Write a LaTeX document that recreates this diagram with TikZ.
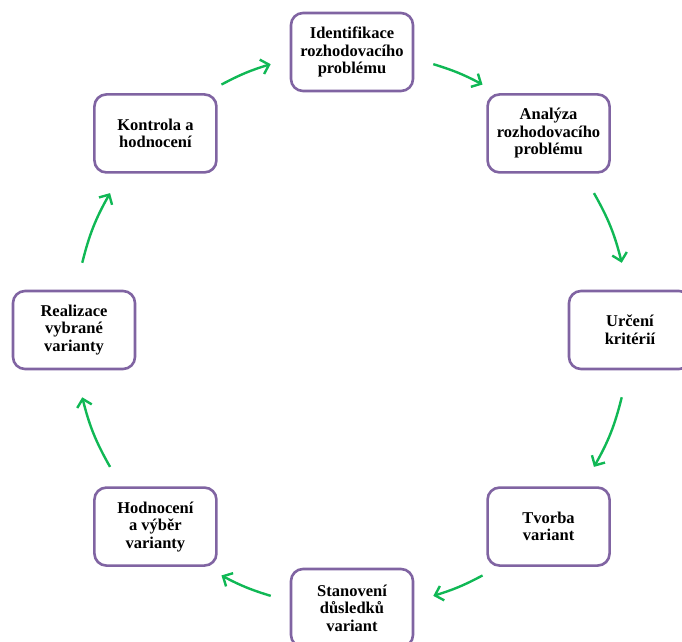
\documentclass[tikz,border=0pt]{standalone}
\usepackage{fontspec}
\setmainfont{Liberation Serif}
\usepackage{xcolor}
\usetikzlibrary{arrows.meta}

\definecolor{boxpurple}{HTML}{8064A2}
\definecolor{arrowgreen}{HTML}{10B855}

\begin{document}
\begin{tikzpicture}[
  x=1pt, y=1pt,
  stepbox/.style={rectangle, rounded corners=12pt, draw=boxpurple, line width=2.6pt, fill=white,
    minimum width=122pt, minimum height=78pt, align=center, inner sep=2pt,
    font=\bfseries\fontsize{16.5}{17.5}\selectfont},
  cycleline/.style={-{Straight Barb[length=7.5pt, width=15pt]}, draw=arrowgreen, line width=2.4pt}
]
\useasboundingbox (-352,-311) rectangle (330,330);

% steps of the decision cycle
\node[stepbox] (ident) at (90:278) {Identifikace\\rozhodovacího\\problému};
\node[stepbox] (anal) at (45:278) {Analýza\\rozhodovacího\\problému};
\node[stepbox] (krit) at (0:278) {Určení\\kritérií};
\node[stepbox] (tvorba) at (-45:278) {Tvorba\\variant};
\node[stepbox] (dusl) at (-90:278) {Stanovení\\důsledků\\variant};
\node[stepbox] (vyber) at (-135:278) {Hodnocení\\a výběr\\varianty};
\node[stepbox] (real) at (180:278) {Realizace\\vybrané\\varianty};
\node[stepbox] (kontr) at (135:278) {Kontrola a\\hodnocení};

% arrow ends on the circle
\coordinate (a1s) at (118:278);   \coordinate (a1e) at (107:278);
\coordinate (a2s) at (73:278);    \coordinate (a2e) at (62:278);
\coordinate (a3s) at (29.5:278);  \coordinate (a3e) at (14:278);
\coordinate (a4s) at (-14:278);   \coordinate (a4e) at (-29.5:278);
\coordinate (a5s) at (-62:278);   \coordinate (a5e) at (-73:278);
\coordinate (a6s) at (-107:278);  \coordinate (a6e) at (-118:278);
\coordinate (a7s) at (-150.5:278); \coordinate (a7e) at (-166:278);
\coordinate (a8s) at (166:278);   \coordinate (a8e) at (150.5:278);

\draw[cycleline] (a1s) to[bend left=5.5] (a1e);
\draw[cycleline] (a2s) to[bend left=5.5] (a2e);
\draw[cycleline] (a3s) to[bend left=7.75] (a3e);
\draw[cycleline] (a4s) to[bend left=7.75] (a4e);
\draw[cycleline] (a5s) to[bend left=5.5] (a5e);
\draw[cycleline] (a6s) to[bend left=5.5] (a6e);
\draw[cycleline] (a7s) to[bend left=7.75] (a7e);
\draw[cycleline] (a8s) to[bend left=7.75] (a8e);
\end{tikzpicture}
\end{document}
